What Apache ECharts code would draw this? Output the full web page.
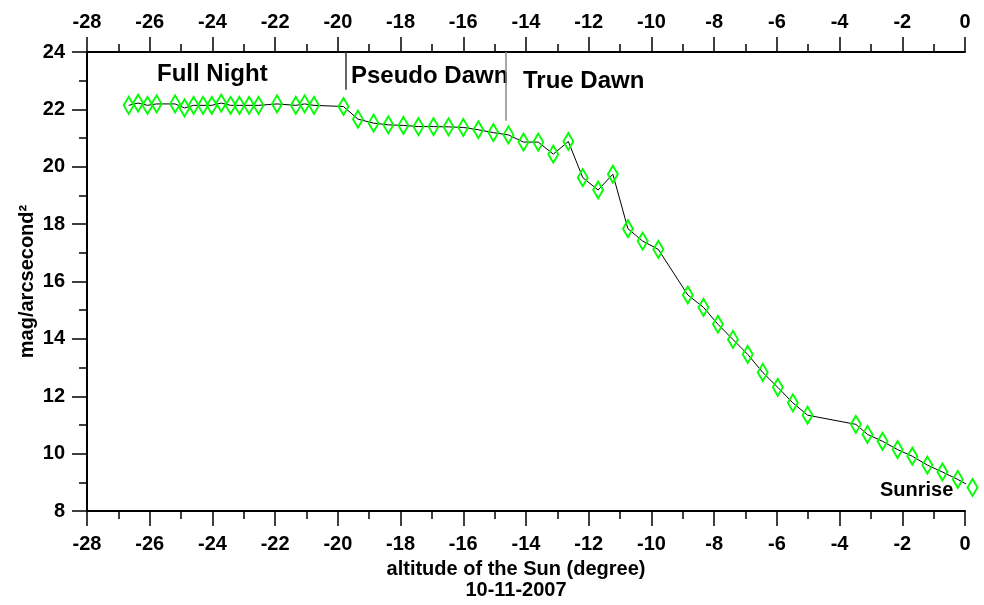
<!DOCTYPE html>
<html lang="en">
<head>
    <meta charset="UTF-8">
    <title>Sky brightness at dawn</title>
    <script src="https://cdn.jsdelivr.net/npm/echarts@6/dist/echarts.min.js"></script>
    <style>
        body { margin: 0; background: #fff; }
        #main { width: 984px; height: 605px; }
    </style>
</head>
<body>
    <div id="main"></div>
    <script>
        // altitude of the sun (degree) and sky brightness (mag/arcsec^2)
        var altitude = [-26.67, -26.37, -26.07, -25.78, -25.19, -24.89, -24.60, -24.30, -24.02, -23.72,
            -23.42, -23.14, -22.83, -22.53, -21.94, -21.34, -21.06, -20.76, -19.82, -19.36,
            -18.86, -18.39, -17.91, -17.43, -16.95, -16.47, -16.00, -15.52, -15.04, -14.56,
            -14.08, -13.61, -13.13, -12.65, -12.19, -11.70, -11.23, -10.75, -10.28, -9.78,
            -8.84, -8.34, -7.88, -7.40, -6.93, -6.45, -5.97, -5.49, -5.02, -3.48,
            -3.11, -2.63, -2.15, -1.68, -1.20, -0.72, -0.23, 0.24];
        var brightness = [22.14, 22.22, 22.14, 22.19, 22.19, 22.05, 22.14, 22.14, 22.14, 22.22,
            22.14, 22.14, 22.14, 22.14, 22.19, 22.14, 22.19, 22.14, 22.10, 21.66,
            21.52, 21.46, 21.44, 21.40, 21.40, 21.39, 21.37, 21.29, 21.19, 21.11,
            20.86, 20.86, 20.44, 20.88, 19.62, 19.19, 19.74, 17.84, 17.41, 17.12,
            15.53, 15.10, 14.51, 13.98, 13.46, 12.83, 12.31, 11.77, 11.34, 11.02,
            10.67, 10.43, 10.14, 9.91, 9.60, 9.36, 9.10, 8.82];

        // the two dawn marker lines: altitude, lower end of the line
        var markerAlt = [-19.74, -14.63];
        var markerLow = [22.68, 21.60];
        var markerColor = ['#333', '#888'];

        var font = "'Liberation Sans', Arial, sans-serif";

        var points = [];
        for (var i = 0; i < altitude.length; i++) {
            points.push([altitude[i], brightness[i]]);
        }
        var markers = [];
        for (var j = 0; j < markerAlt.length; j++) {
            markers.push([
                { coord: [markerAlt[j], 24], lineStyle: { color: markerColor[j] } },
                { coord: [markerAlt[j], markerLow[j]] }
            ]);
        }

        function xAxisOf(pos, margin) {
            return {
                type: 'value',
                position: pos,
                min: -28,
                max: 0,
                interval: 2,
                axisLine: { show: true, onZero: false, lineStyle: { color: '#000', width: 2 } },
                axisTick: { show: true, length: 15, lineStyle: { color: '#000', width: 1.5 } },
                minorTick: { show: true, splitNumber: 2, length: 8, lineStyle: { color: '#000', width: 1.5 } },
                splitLine: { show: false },
                axisLabel: { color: '#000', fontFamily: font, fontWeight: 'bold', fontSize: 20, margin: margin }
            };
        }

        var bottomAxis = xAxisOf('bottom', 23);
        bottomAxis.name = 'altitude of the Sun (degree)\n10-11-2007';
        bottomAxis.nameLocation = 'middle';
        bottomAxis.nameGap = 48;
        bottomAxis.nameTextStyle = { color: '#000', fontFamily: font, fontWeight: 'bold', fontSize: 20, lineHeight: 21, padding: [0, 20, 0, 0] };

        var option = {
            backgroundColor: '#fff',
            animation: false,
            grid: { left: 87, right: 19, top: 52, bottom: 94, outerBoundsMode: 'none' },
            xAxis: [bottomAxis, xAxisOf('top', 20)],
            yAxis: {
                type: 'value',
                position: 'left',
                min: 8,
                max: 24,
                interval: 2,
                name: 'mag/arcsecond²',
                nameLocation: 'middle',
                nameGap: 50,
                nameMoveOverlap: false,
                nameTextStyle: { color: '#000', fontFamily: font, fontWeight: 'bold', fontSize: 20 },
                axisLine: { show: true, onZero: false, lineStyle: { color: '#000', width: 2 } },
                axisTick: { show: true, length: 15, lineStyle: { color: '#000', width: 1.5 } },
                minorTick: { show: true, splitNumber: 2, length: 8, lineStyle: { color: '#000', width: 1.5 } },
                splitLine: { show: false },
                axisLabel: { color: '#000', fontFamily: font, fontWeight: 'bold', fontSize: 20, margin: 22 }
            },
            series: [{
                type: 'line',
                data: points,
                clip: false,
                symbol: 'diamond',
                symbolSize: [10, 17],
                itemStyle: { color: 'rgba(0,0,0,0)', borderColor: '#00ff00', borderWidth: 2 },
                lineStyle: { color: '#000', width: 1 },
                markLine: {
                    silent: true,
                    symbol: 'none',
                    label: { show: false },
                    lineStyle: { type: 'solid', width: 1.5 },
                    data: markers
                }
            }],
            graphic: [
                { type: 'text', left: 157, top: 62, style: { text: 'Full Night', fontFamily: font, fontWeight: 'bold', fontSize: 24, fill: '#000' } },
                { type: 'text', left: 351, top: 64, style: { text: 'Pseudo Dawn', fontFamily: font, fontWeight: 'bold', fontSize: 24, fill: '#000' } },
                { type: 'text', left: 523, top: 69, style: { text: 'True Dawn', fontFamily: font, fontWeight: 'bold', fontSize: 24, fill: '#000' } },
                { type: 'text', left: 880, top: 480, style: { text: 'Sunrise', fontFamily: font, fontWeight: 'bold', fontSize: 20, fill: '#000' } }
            ]
        };

        var chart = echarts.init(document.getElementById('main'));
        chart.setOption(option);
    </script>
</body>
</html>
